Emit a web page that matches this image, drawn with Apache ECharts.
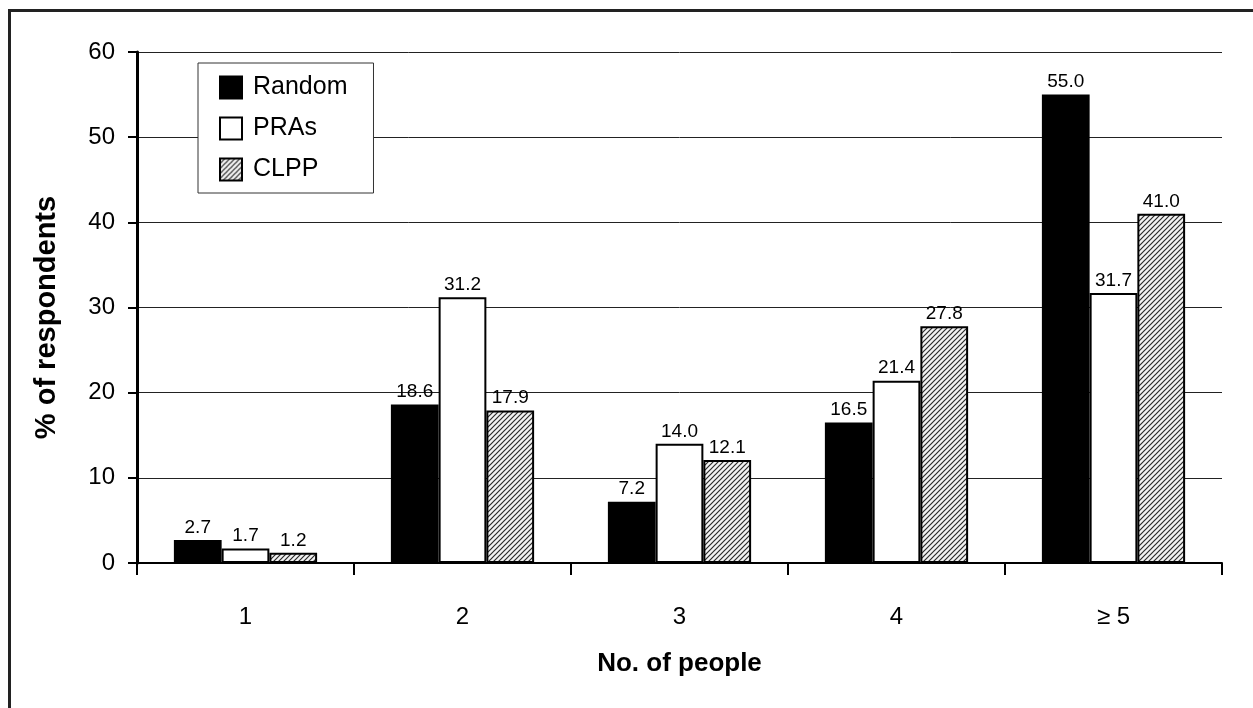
<!DOCTYPE html>
<html>
<head>
<meta charset="utf-8">
<script src="https://cdn.jsdelivr.net/npm/echarts@6/dist/echarts.min.js"></script>
<style>
html,body{margin:0;padding:0;background:#fff;}
#chart{width:1253px;height:708px;}
</style>
</head>
<body>
<div id="chart"></div>
<script>
var categories = ['1', '2', '3', '4', '\u2265 5'];
var randomValues = [2.7, 18.6, 7.2, 16.5, 55.0];
var praValues = [1.7, 31.2, 14.0, 21.4, 31.7];
var clppValues = [1.2, 17.9, 12.1, 27.8, 41.0];
var seriesNames = ['Random', 'PRAs', 'CLPP'];
var yTicks = {min: 0, max: 60, interval: 10};

var FONT = "'Liberation Sans', Arial, sans-serif";

// hatch pattern
var pc = document.createElement('canvas');
pc.width = 5; pc.height = 5;
var g = pc.getContext('2d');
g.fillStyle = '#f2f2f2';
g.fillRect(0, 0, 5, 5);
g.strokeStyle = '#2a2a2a';
g.lineWidth = 1.2;
g.beginPath();
g.moveTo(-1, 6); g.lineTo(6, -1);
g.moveTo(-1, 1); g.lineTo(1, -1);
g.moveTo(4, 6); g.lineTo(6, 4);
g.stroke();
var hatch = {image: pc, repeat: 'repeat'};

function labelCfg() {
  return {
    show: true, position: 'top', distance: 3,
    fontFamily: FONT, fontSize: 19, color: '#000',
    formatter: function (p) { return Number(p.value).toFixed(1); }
  };
}

var chart = echarts.init(document.getElementById('chart'), null, {renderer: 'canvas'});
chart.setOption({
  animation: false,
  backgroundColor: '#fff',
  textStyle: {fontFamily: FONT},
  graphic: [{
    type: 'rect', left: 7, top: 8, z: 100,
    shape: {x: 0, y: 0, width: 1320, height: 780},
    style: {fill: null, stroke: '#222', lineWidth: 3}
  }],
  grid: {left: 137, right: 31, top: 52, bottom: 145, containLabel: false},
  legend: {
    orient: 'vertical', left: 198, top: 63,
    data: seriesNames,
    itemWidth: 22, itemHeight: 22, itemGap: 16,
    padding: [12, 26, 11, 21],
    backgroundColor: '#fff',
    borderColor: '#333', borderWidth: 1,
    textStyle: {fontFamily: FONT, fontSize: 25, color: '#000', lineHeight: 22, padding: [0, 0, 0, 6]},
    icon: 'rect'
  },
  xAxis: {
    type: 'category', data: categories,
    name: 'No. of people', nameLocation: 'middle', nameGap: 88,
    nameTextStyle: {fontFamily: FONT, fontSize: 26, fontWeight: 'bold', color: '#000'},
    axisLine: {lineStyle: {color: '#000', width: 2}},
    axisTick: {show: true, length: 12, lineStyle: {color: '#000', width: 2}},
    axisLabel: {fontFamily: FONT, fontSize: 24, color: '#000', margin: 42}
  },
  yAxis: {
    type: 'value', min: yTicks.min, max: yTicks.max, interval: yTicks.interval,
    name: '% of respondents', nameLocation: 'middle', nameGap: 76, nameRotate: 90,
    nameTextStyle: {fontFamily: FONT, fontSize: 29, fontWeight: 'bold', color: '#000', padding: [0, 20, 0, 0]},
    axisLine: {show: true, lineStyle: {color: '#000', width: 3}},
    axisTick: {show: true, length: 9, lineStyle: {color: '#000', width: 2}},
    axisLabel: {fontFamily: FONT, fontSize: 24, color: '#000', margin: 22},
    splitLine: {show: true, lineStyle: {color: '#222', width: 1}}
  },
  series: [
    {
      name: seriesNames[0], type: 'bar', data: randomValues,
      barGap: '0%', barCategoryGap: '34%',
      itemStyle: {color: '#000', borderColor: '#000', borderWidth: 2},
      label: labelCfg()
    },
    {
      name: seriesNames[1], type: 'bar', data: praValues,
      barGap: '0%', barCategoryGap: '34%',
      itemStyle: {color: '#fff', borderColor: '#000', borderWidth: 2},
      label: labelCfg()
    },
    {
      name: seriesNames[2], type: 'bar', data: clppValues,
      barGap: '0%', barCategoryGap: '34%',
      itemStyle: {color: hatch, borderColor: '#000', borderWidth: 2},
      label: labelCfg()
    }
  ]
});
</script>
</body>
</html>
